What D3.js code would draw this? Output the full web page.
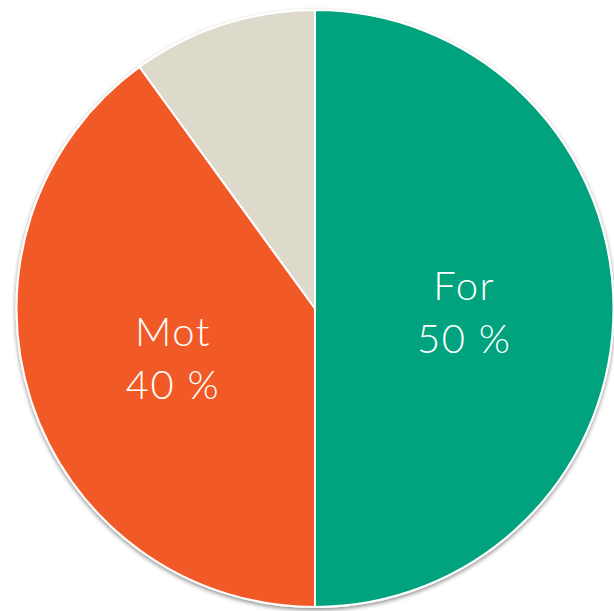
<!DOCTYPE html>
<html><head><meta charset="utf-8">
<script src="https://cdn.jsdelivr.net/npm/d3@7"></script>
<style>html,body{margin:0;padding:0;background:#fff;}</style>
</head><body>
<svg id="c" width="614" height="611"></svg>
<script>
const categories = ["For", "Mot", ""];
const values = [50, 40, 10];
const labels = ["50 %", "40 %", ""];
const colors = ["#00A37D", "#F15A27", "#DDD9CB"];

const svg = d3.select("#c");
const cx = 315, cy = 308.5, r = 298.5;
const defs = svg.append("defs");
const f = defs.append("filter").attr("id","sh").attr("x","-10%").attr("y","-10%").attr("width","120%").attr("height","120%");
f.append("feGaussianBlur").attr("in","SourceAlpha").attr("stdDeviation",2);
f.append("feOffset").attr("dy",2).attr("result","b");
f.append("feComponentTransfer").append("feFuncA").attr("type","linear").attr("slope",0.45);
const m = f.append("feMerge"); m.append("feMergeNode"); m.append("feMergeNode").attr("in","SourceGraphic");

const g = svg.append("g").attr("transform",`translate(${cx},${cy})`);
const data = categories.map((c,i)=>({c, v:values[i], l:labels[i], col:colors[i]}));
const pie = d3.pie().value(d=>d.v).sort(null);
const arc = d3.arc().innerRadius(0).outerRadius(r);
const labArc = d3.arc().innerRadius(r*0.5).outerRadius(r*0.5);
const arcs = pie(data);
const gp = g.append("g").attr("filter","url(#sh)");
gp.selectAll("path").data(arcs).join("path")
  .attr("d",arc).attr("fill",d=>d.data.col)
  .attr("stroke","#fff").attr("stroke-width",2).attr("stroke-linejoin","round");

const t = g.selectAll("text.lab").data(arcs.filter(d=>d.data.c)).join("text")
  .attr("class","lab")
  .attr("transform",d=>`translate(${labArc.centroid(d)})`)
  .attr("text-anchor","middle").attr("fill","#fff")
  .style("font-family","Lato, 'Noto Sans', sans-serif").style("font-weight",300)
  .style("font-size","40px").style("letter-spacing","1.5px");
t.append("tspan").attr("x",0).attr("y",-8.5).text(d=>d.data.c);
t.append("tspan").attr("x",0).attr("y",44.5).text(d=>d.data.l);
</script>
</body></html>
